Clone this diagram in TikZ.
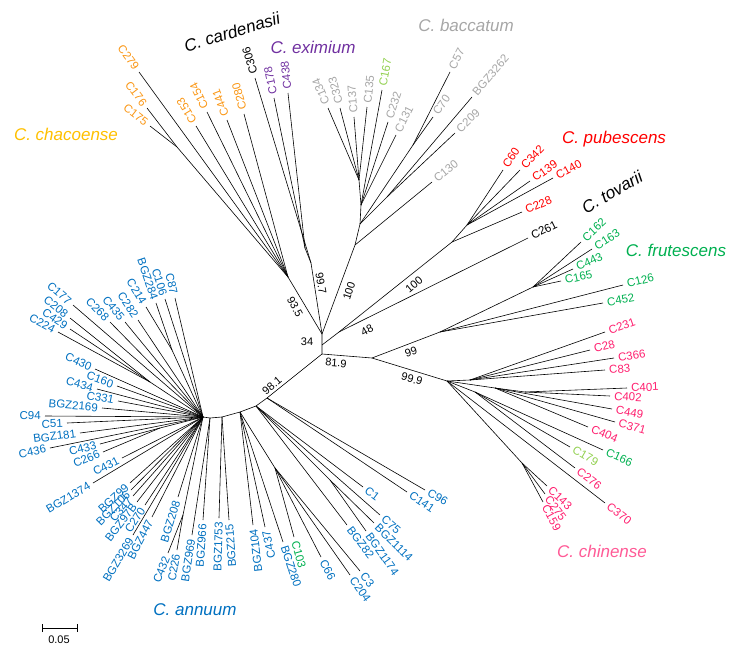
\documentclass[tikz,border=0pt]{standalone}
\usepackage{fontspec}
\setmainfont{Liberation Sans}
\usepackage{xcolor}
\usetikzlibrary{arrows.meta}

\definecolor{annblue}{RGB}{0,112,192}
\definecolor{chaorange}{RGB}{250,150,20}
\definecolor{chayellow}{RGB}{255,192,0}
\definecolor{eximpurple}{RGB}{112,48,160}
\definecolor{bacgray}{RGB}{166,166,166}
\definecolor{ltgreen}{RGB}{146,208,80}
\definecolor{pubred}{RGB}{255,0,0}
\definecolor{frugreen}{RGB}{0,176,80}
\definecolor{chipink}{RGB}{255,30,110}
\definecolor{chipinklt}{RGB}{255,90,150}

\tikzset{
  branch/.style={line width=0.6pt,line join=round},
  tiplab/.style={inner xsep=4pt,inner ysep=1pt,font=\fontsize{11.5}{12}\selectfont},
  spclab/.style={inner sep=0pt,font=\fontsize{17}{18}\selectfont\itshape},
  bslab/.style={inner sep=0pt,font=\fontsize{11}{12}\selectfont}
}

% leaf: parent, name, tip position, colour
\newcommand{\leafR}[4]{%
  \coordinate (#2) at (#3);
  \draw[branch] (#1) -- (#2);
  \pgfmathanglebetweenpoints{\pgfpointanchor{#1}{center}}{\pgfpointanchor{#2}{center}}%
  \edef\leafang{\pgfmathresult}%
  \node[tiplab,text=#4,anchor=west,rotate=\leafang] (#2-lab) at (#2) {#2};}
\newcommand{\leafL}[4]{%
  \coordinate (#2) at (#3);
  \draw[branch] (#1) -- (#2);
  \pgfmathanglebetweenpoints{\pgfpointanchor{#1}{center}}{\pgfpointanchor{#2}{center}}%
  \edef\leafang{\pgfmathresult}%
  \node[tiplab,text=#4,anchor=east,rotate=\leafang-180] (#2-lab) at (#2) {#2};}

\begin{document}
\begin{tikzpicture}[x=1pt,y=-1pt]
  \useasboundingbox (0,0) rectangle (741,645);

  % inner nodes
  \coordinate (A) at (322,354);   \coordinate (M) at (322,345);
  \coordinate (B) at (322,334);   \coordinate (T) at (339,332);
  \coordinate (P) at (452,242);   \coordinate (P2) at (467,225);
  \coordinate (F0) at (372,358);  \coordinate (Fr) at (440,332);
  \coordinate (Fr2) at (533,287); \coordinate (Cn) at (447,381);
  \coordinate (Cu) at (470,380);  \coordinate (Cm) at (495,388);
  \coordinate (Cm2) at (525,392); \coordinate (Cl) at (475,392);
  \coordinate (Ct) at (522,463);
  \coordinate (Ch) at (288,277);  \coordinate (Ch1) at (177,147);
  \coordinate (Cd) at (311,263);  \coordinate (Ce) at (305,248);
  \coordinate (Bc0) at (355,245); \coordinate (Bc1) at (360,224);
  \coordinate (Bc2) at (413,145); \coordinate (Bc3) at (387,197);
  \coordinate (Bc4) at (361,205); \coordinate (Bc5) at (359,180);
  \coordinate (An1) at (267,398); \coordinate (An2) at (256,406);
  \coordinate (An3) at (240,412); \coordinate (An4) at (222,417);
  \coordinate (An5) at (210,418); \coordinate (An6) at (203,417);
  \coordinate (K114) at (330,480); \coordinate (S3) at (275,468);
  \coordinate (K226) at (183,515); \coordinate (U1) at (150,382);
  \coordinate (U3) at (172,350);  \coordinate (K433) at (160,428);

  \draw[branch] (B) -- (A) -- (An1) -- (An2) -- (An3) -- (An4) -- (An5) -- (An6);
  \draw[branch] (M) -- (T) -- (P) -- (P2);
  \draw[branch] (A) -- (F0) -- (Fr) -- (Fr2);
  \draw[branch] (F0) -- (Cn) -- (Cu);
  \draw[branch] (Cn) -- (Cm) -- (Cm2);
  \draw[branch] (Cn) -- (Cl);
  \draw[branch] (Cn) -- (Ct);
  \draw[branch] (B) -- (Ch) -- (Ch1);
  \draw[branch] (B) -- (Cd) -- (Ce);
  \draw[branch] (B) -- (Bc0) -- (Bc1) -- (Bc4) -- (Bc5);
  \draw[branch] (Bc1) -- (Bc2);
  \draw[branch] (Bc1) -- (Bc3);
  \draw[branch] (An2) -- (K114);
  \draw[branch] (An3) -- (S3);
  \draw[branch] (An6) -- (K226);
  \draw[branch] (An6) -- (U1);
  \draw[branch] (An6) -- (U3);
  \draw[branch] (An6) -- (K433);

  % chacoense, cardenasii, eximium
  \leafL{Ch}{C279}{139,72}{chaorange}
  \leafL{Ch1}{C176}{147,108}{chaorange}
  \leafL{Ch1}{C175}{150,126}{chaorange}
  \leafR{Ch}{C153}{196,126}{chaorange}
  \leafR{Ch}{C154}{207,112}{chaorange}
  \leafR{Ch}{C441}{227,120}{chaorange}
  \leafR{Ch}{C280}{244,114}{chaorange}
  \leafR{Cd}{C306}{255,78}{black}
  \leafR{Ce}{C178}{274,98}{eximpurple}
  \leafR{Ce}{C438}{288,93}{eximpurple}

  % baccatum
  \leafR{Bc0}{C130}{432,182}{bacgray}
  \leafR{Bc2}{C57}{450,72}{bacgray}
  \leafR{Bc2}{C70}{433,117}{bacgray}
  \leafR{Bc3}{BGZ3262}{472,97}{bacgray}
  \leafR{Bc3}{C209}{455,133}{bacgray}
  \leafR{Bc4}{C167}{382,90}{ltgreen}
  \leafR{Bc4}{C232}{388,122}{bacgray}
  \leafR{Bc4}{C131}{396,135}{bacgray}
  \leafR{Bc5}{C134}{328,108}{bacgray}
  \leafR{Bc5}{C323}{340,108}{bacgray}
  \leafR{Bc5}{C137}{354,117}{bacgray}
  \leafR{Bc5}{C135}{367,107}{bacgray}

  % pubescens, tovarii
  \leafR{P2}{C60}{503,170}{pubred}
  \leafR{P2}{C342}{520,170}{pubred}
  \leafR{P2}{C139}{530,181}{pubred}
  \leafR{P2}{C140}{553,178}{pubred}
  \leafR{P}{C228}{522,212}{pubred}
  \leafR{T}{C261}{528,238}{black}

  % frutescens
  \leafR{Fr2}{C162}{581,242}{frugreen}
  \leafR{Fr2}{C163}{592,249}{frugreen}
  \leafR{Fr2}{C443}{573,269}{frugreen}
  \leafR{Fr2}{C165}{561,281}{frugreen}
  \leafR{Fr}{C126}{623,285}{frugreen}
  \leafR{Fr}{C452}{603,303}{frugreen}

  % chinense
  \leafR{Cu}{C231}{605,332}{chipink}
  \leafR{Cu}{C28}{590,350}{chipink}
  \leafR{Cu}{C366}{614,358}{chipink}
  \leafR{Cu}{C83}{605,370}{chipink}
  \leafR{Cm2}{C401}{627,388}{chipink}
  \leafR{Cm2}{C402}{610,396}{chipink}
  \leafR{Cm}{C449}{612,409}{chipink}
  \leafR{Cm}{C371}{615,422}{chipink}
  \leafR{Cm}{C404}{588,427}{chipink}
  \leafR{Cl}{C166}{603,450}{frugreen}
  \leafR{Cl}{C179}{570,447}{ltgreen}
  \leafR{Cl}{C276}{575,468}{chipink}
  \leafR{Cn}{C370}{605,503}{chipink}
  \leafR{Ct}{C143}{547,486}{chipink}
  \leafR{Ct}{C275}{545,494}{chipink}
  \leafR{Ct}{C159}{543,502}{chipink}

  % annuum
  \leafR{An1}{C96}{425,490}{annblue}
  \leafR{An1}{C141}{407,492}{annblue}
  \leafR{An2}{C1}{363,487}{annblue}
  \leafR{An2}{C75}{380,515}{annblue}
  \leafR{K114}{BGZ1114}{374,523}{annblue}
  \leafR{K114}{BGZ1174}{366,531}{annblue}
  \leafR{An2}{BGZ82}{347,525}{annblue}
  \leafR{S3}{C3}{360,571}{annblue}
  \leafR{S3}{C204}{350,575}{annblue}
  \leafR{S3}{C66}{321,557}{annblue}
  \leafR{S3}{C103}{294,537}{frugreen}
  \leafR{An3}{BGZ280}{283,542}{annblue}
  \leafL{An3}{C437}{265,527}{annblue}
  \leafL{An3}{BGZ104}{253,525}{annblue}
  \leafL{An4}{BGZ215}{229,520}{annblue}
  \leafL{An4}{BGZ1753}{219,518}{annblue}
  \leafL{An5}{BGZ966}{203,520}{annblue}
  \leafL{An5}{BGZ969}{192,535}{annblue}
  \leafL{K226}{C226}{177,550}{annblue}
  \leafL{K226}{C432}{168,553}{annblue}
  \leafL{An6}{BGZ208}{178,497}{annblue}
  \leafL{An6}{BGZ447}{152,517}{annblue}
  \leafL{An6}{BGZ3269}{133,535}{annblue}
  \leafL{An6}{C270}{145,505}{annblue}
  \leafL{An6}{BGZ97B}{137,502}{annblue}
  \leafL{An6}{C347}{133,496}{annblue}
  \leafL{An6}{BGZ106}{131,490}{annblue}
  \leafL{An6}{BGZ99}{130,483}{annblue}
  \leafL{An6}{BGZ1374}{93,483}{annblue}
  \leafL{An6}{C431}{122,458}{annblue}
  \leafL{K433}{C433}{100,444}{annblue}
  \leafL{K433}{C266}{103,452}{annblue}
  \leafL{An6}{C436}{50,448}{annblue}
  \leafL{An6}{BGZ181}{80,433}{annblue}
  \leafL{An6}{C51}{67,423}{annblue}
  \leafL{An6}{C94}{45,416}{annblue}
  \leafL{An6}{BGZ2169}{102,408}{annblue}
  \leafL{An6}{C331}{118,401}{annblue}
  \leafL{An6}{C434}{97,389}{annblue}
  \leafL{An6}{C160}{117,386}{annblue}
  \leafL{An6}{C430}{95,369}{annblue}
  \leafL{U1}{C224}{58,332}{annblue}
  \leafL{U1}{C429}{70,329}{annblue}
  \leafL{U1}{C208}{70,318}{annblue}
  \leafL{An6}{C177}{73,305}{annblue}
  \leafL{An6}{C268}{110,322}{annblue}
  \leafL{An6}{C435}{125,322}{annblue}
  \leafL{An6}{C282}{138,320}{annblue}
  \leafL{U3}{C214}{146,307}{annblue}
  \leafL{U3}{BGZ284}{156,303}{annblue}
  \leafL{An6}{C106}{165,299}{annblue}
  \leafL{An6}{C87}{175,298}{annblue}

  % bootstrap values
  \node[bslab,rotate=-62] (bs935) at (295,307) {93.5};
  \node[bslab,rotate=-80] (bs997) at (321,283) {99.7};
  \node[bslab,rotate=72] (bs100a) at (349,291) {100};
  \node[bslab,rotate=40] (bs100b) at (414,285) {100};
  \node[bslab,rotate=28] (bs48) at (367,330) {48};
  \node[bslab] (bs34) at (307,342) {34};
  \node[bslab,rotate=-5] (bs819) at (336,363) {81.9};
  \node[bslab,rotate=18] (bs99) at (411,352) {99};
  \node[bslab,rotate=-15] (bs999) at (412,379) {99.9};
  \node[bslab,rotate=40] (bs981) at (272,386) {98.1};

  % species
  \node[spclab,text=chayellow] (chaco) at (66,134) {C. chacoense};
  \node[spclab,rotate=17] (carde) at (232,32) {C. cardenasii};
  \node[spclab,text=eximpurple] (exim) at (313,47) {C. eximium};
  \node[spclab,text=bacgray] (bacc) at (466,25) {C. baccatum};
  \node[spclab,text=pubred] (pube) at (614,139) {C. pubescens};
  \node[spclab,rotate=30] (tova) at (612,192) {C. tovarii};
  \node[spclab,text=frugreen] (frut) at (676,250) {C. frutescens};
  \node[spclab,text=chipinklt] (chin) at (602,551) {C. chinense};
  \node[spclab,text=annblue] (annu) at (195,610) {C. annuum};

  % scale bar
  \coordinate (sb0) at (42,628);
  \coordinate (sb1) at (78,628);
  \draw[branch,{Bar[width=8pt]}-{Bar[width=8pt]}] (sb0) -- (sb1);
  \node[bslab] (sblab) at (59,640) {0.05};
\end{tikzpicture}
\end{document}
